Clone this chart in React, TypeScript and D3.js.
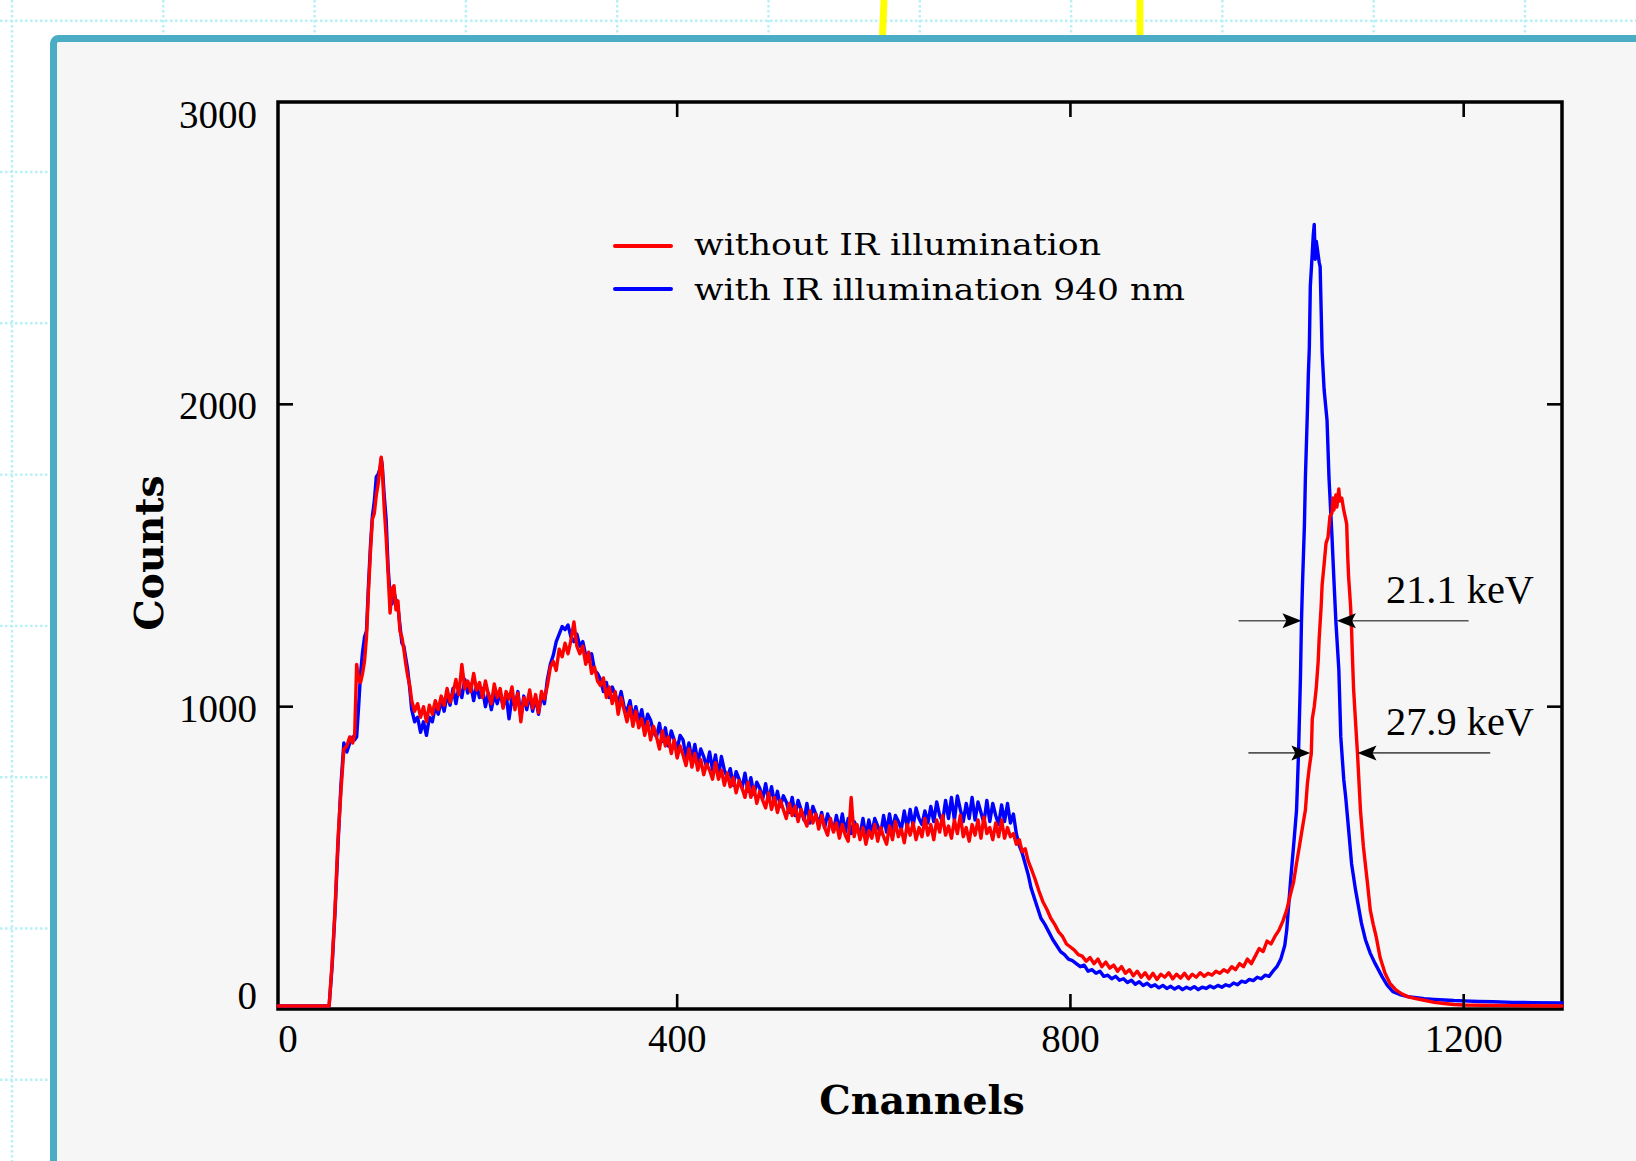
import React from "react";
import * as d3 from "d3";

const W = 1636;
const H = 1161;
const plot = { left: 278, right: 1562, top: 102, bottom: 1009 };

// axis setup
const xDomain = [-6, 1300];
const yDomain = [0, 3000];
const xTicks = [0, 400, 800, 1200];
const yTicks = [0, 1000, 2000, 3000];

const seriesNames = ["without IR illumination", "with IR illumination 940 nm"];
const seriesColors = ["#ff0000", "#0000ff"];

// [channel, counts]
const withoutIR: [number, number][] = [
  [-6, 10], [46, 10], [49, 150], [52, 330], [55, 560], [58, 720], [61, 860], [64, 870], [67, 900], [70, 880],
  [72, 910], [74, 1140], [76, 1090], [78, 1080], [80, 1110], [82, 1150], [84, 1230], [86, 1380], [88, 1510], [90, 1620],
  [92, 1640], [94, 1700], [96, 1740], [98, 1800], [99, 1825], [100, 1790], [102, 1660], [104, 1560], [106, 1440], [108, 1310],
  [110, 1390], [112, 1400], [114, 1320], [116, 1350], [118, 1250], [120, 1230], [122, 1190], [124, 1140], [126, 1100], [128, 1070],
  [130, 1020], [133, 985], [136, 1010], [139, 965], [142, 1000], [145, 950], [148, 1005], [151, 975], [154, 1020], [157, 990],
  [160, 1035], [163, 1005], [166, 1060], [169, 1015], [172, 1045], [175, 1090], [178, 1040], [181, 1140], [184, 1060], [187, 1085],
  [190, 1050], [193, 1110], [196, 1055], [199, 1080], [202, 1030], [205, 1085], [208, 1040], [211, 1010], [214, 1075], [217, 1030],
  [220, 1060], [223, 995], [226, 1050], [229, 1025], [232, 1065], [235, 990], [238, 1045], [241, 950], [244, 1030], [247, 1005],
  [250, 1055], [253, 995], [256, 1040], [259, 980], [262, 1050], [265, 1025], [268, 1070], [271, 1130], [274, 1150], [277, 1120],
  [280, 1190], [283, 1165], [286, 1210], [289, 1175], [292, 1220], [295, 1280], [298, 1200], [301, 1175], [304, 1200], [307, 1140],
  [310, 1180], [313, 1110], [316, 1130], [319, 1085], [322, 1070], [325, 1095], [328, 1030], [331, 1065], [334, 1010], [337, 1050],
  [340, 975], [343, 1030], [346, 990], [349, 950], [352, 1000], [355, 935], [358, 985], [361, 930], [364, 960], [367, 905],
  [370, 950], [373, 890], [376, 935], [379, 900], [382, 860], [385, 920], [388, 870], [391, 900], [394, 845], [397, 890],
  [400, 830], [403, 870], [406, 840], [409, 805], [412, 860], [415, 800], [418, 845], [421, 790], [424, 825], [427, 775],
  [430, 810], [433, 790], [436, 760], [439, 815], [442, 760], [445, 790], [448, 740], [451, 780], [454, 735], [457, 765],
  [460, 715], [463, 755], [466, 730], [469, 700], [472, 750], [475, 700], [478, 735], [481, 680], [484, 720], [487, 690],
  [490, 665], [493, 715], [496, 660], [499, 700], [502, 650], [505, 690], [508, 660], [511, 630], [514, 680], [517, 640],
  [520, 670], [523, 620], [526, 660], [529, 630], [532, 605], [535, 655], [538, 615], [541, 645], [544, 595], [547, 640],
  [550, 600], [553, 575], [556, 630], [559, 585], [562, 615], [565, 565], [568, 610], [571, 575], [574, 555], [577, 700],
  [580, 570], [583, 610], [586, 560], [589, 600], [592, 545], [595, 590], [598, 565], [601, 610], [604, 555], [607, 600],
  [610, 570], [613, 545], [616, 605], [619, 560], [622, 620], [625, 570], [628, 595], [631, 550], [634, 610], [637, 575],
  [640, 615], [643, 560], [646, 600], [649, 570], [652, 630], [655, 575], [658, 610], [661, 560], [664, 625], [667, 585],
  [670, 640], [673, 575], [676, 605], [679, 565], [682, 625], [685, 580], [688, 640], [691, 570], [694, 600], [697, 555],
  [700, 610], [703, 575], [706, 625], [709, 565], [712, 635], [715, 580], [718, 600], [721, 560], [724, 615], [727, 570],
  [730, 625], [733, 565], [736, 600], [739, 570], [742, 580], [745, 545], [748, 560], [751, 520], [754, 530], [757, 490],
  [760, 465], [764, 430], [768, 390], [772, 355], [776, 330], [780, 300], [784, 280], [788, 255], [792, 240], [796, 215],
  [800, 205], [804, 195], [808, 180], [812, 175], [816, 158], [820, 170], [824, 150], [828, 165], [832, 140], [836, 155],
  [840, 135], [844, 145], [848, 125], [852, 140], [856, 118], [860, 130], [864, 110], [868, 125], [872, 105], [876, 120],
  [880, 100], [884, 118], [888, 98], [892, 115], [896, 105], [900, 120], [904, 100], [908, 115], [912, 102], [916, 118],
  [920, 100], [924, 115], [928, 105], [932, 120], [936, 108], [940, 118], [944, 112], [948, 125], [952, 118], [956, 130],
  [960, 122], [964, 140], [968, 130], [972, 150], [976, 140], [980, 165], [984, 150], [988, 175], [992, 200], [996, 190],
  [1000, 225], [1004, 215], [1008, 240], [1012, 260], [1016, 290], [1020, 327], [1024, 382], [1027, 420], [1030, 482], [1033, 540],
  [1036, 600], [1039, 658], [1041, 744], [1043, 800], [1045, 845], [1046, 959], [1048, 1000], [1050, 1060], [1052, 1150], [1053, 1225],
  [1055, 1330], [1056, 1402], [1058, 1470], [1060, 1541], [1062, 1560], [1064, 1630], [1066, 1640], [1067, 1690], [1068, 1650], [1070, 1700],
  [1071, 1660], [1073, 1720], [1074, 1680], [1076, 1690], [1078, 1650], [1080, 1620], [1081, 1604], [1082, 1500], [1083, 1427], [1085, 1330],
  [1086, 1250], [1087, 1150], [1088, 1060], [1090, 950], [1092, 845], [1094, 720], [1095, 658], [1098, 537], [1102, 420], [1105, 327],
  [1108, 280], [1111, 239], [1115, 170], [1120, 118], [1125, 85], [1131, 63], [1137, 50], [1143, 41], [1150, 35], [1161, 28],
  [1170, 22], [1180, 18], [1190, 15], [1200, 13], [1220, 12], [1250, 11], [1300, 10],
];

const withIR: [number, number][] = [
  [-6, 10], [46, 10], [49, 140], [52, 320], [55, 540], [58, 740], [61, 880], [64, 850], [67, 880], [70, 900],
  [72, 890], [74, 900], [76, 1000], [78, 1110], [80, 1180], [82, 1230], [84, 1250], [86, 1400], [88, 1530], [90, 1630],
  [92, 1680], [94, 1760], [96, 1770], [98, 1790], [99, 1820], [100, 1800], [102, 1700], [104, 1620], [106, 1460], [108, 1370],
  [110, 1340], [112, 1380], [114, 1350], [116, 1330], [118, 1270], [120, 1210], [122, 1200], [124, 1160], [126, 1120], [128, 1060],
  [130, 990], [133, 950], [136, 965], [139, 915], [142, 950], [145, 905], [148, 965], [151, 950], [154, 1000], [157, 975],
  [160, 1020], [163, 985], [166, 1040], [169, 1005], [172, 1060], [175, 1010], [178, 1065], [181, 1030], [184, 1090], [187, 1045],
  [190, 1075], [193, 1020], [196, 1070], [199, 1030], [202, 1060], [205, 1000], [208, 1045], [211, 990], [214, 1040], [217, 1010],
  [220, 1050], [223, 1000], [226, 1040], [229, 960], [232, 1030], [235, 1000], [238, 1050], [241, 965], [244, 1035], [247, 990],
  [250, 1040], [253, 985], [256, 1030], [259, 975], [262, 1040], [265, 1010], [268, 1090], [271, 1140], [274, 1170], [277, 1215],
  [280, 1240], [283, 1265], [286, 1255], [289, 1270], [292, 1230], [295, 1215], [298, 1240], [301, 1200], [304, 1215], [307, 1170],
  [310, 1150], [313, 1175], [316, 1120], [319, 1110], [322, 1090], [325, 1050], [328, 1080], [331, 1030], [334, 1065], [337, 1040],
  [340, 1010], [343, 1050], [346, 1000], [349, 985], [352, 1020], [355, 960], [358, 1000], [361, 950], [364, 990], [367, 930],
  [370, 975], [373, 955], [376, 915], [379, 900], [382, 945], [385, 885], [388, 930], [391, 870], [394, 920], [397, 890],
  [400, 860], [403, 905], [406, 890], [409, 835], [412, 880], [415, 825], [418, 875], [421, 815], [424, 860], [427, 835],
  [430, 800], [433, 850], [436, 790], [439, 840], [442, 770], [445, 835], [448, 790], [451, 765], [454, 795], [457, 740],
  [460, 785], [463, 760], [466, 730], [469, 780], [472, 720], [475, 765], [478, 710], [481, 750], [484, 730], [487, 695],
  [490, 745], [493, 690], [496, 735], [499, 680], [502, 720], [505, 670], [508, 705], [511, 685], [514, 650], [517, 700],
  [520, 640], [523, 690], [526, 660], [529, 625], [532, 680], [535, 615], [538, 670], [541, 645], [544, 610], [547, 650],
  [550, 600], [553, 645], [556, 620], [559, 590], [562, 640], [565, 590], [568, 645], [571, 585], [574, 630], [577, 580],
  [580, 620], [583, 600], [586, 575], [589, 630], [592, 570], [595, 625], [598, 580], [601, 630], [604, 605], [607, 580],
  [610, 640], [613, 585], [616, 645], [619, 590], [622, 640], [625, 620], [628, 595], [631, 655], [634, 600], [637, 660],
  [640, 605], [643, 665], [646, 630], [649, 610], [652, 655], [655, 615], [658, 670], [661, 620], [664, 685], [667, 640],
  [670, 620], [673, 690], [676, 630], [679, 700], [682, 625], [685, 705], [688, 660], [691, 620], [694, 680], [697, 630],
  [700, 700], [703, 625], [706, 685], [709, 650], [712, 615], [715, 690], [718, 620], [721, 680], [724, 640], [727, 610],
  [730, 675], [733, 620], [736, 680], [739, 615], [742, 645], [745, 580], [748, 540], [751, 515], [754, 480], [757, 445],
  [760, 400], [763, 370], [766, 340], [770, 300], [774, 280], [778, 255], [782, 230], [786, 210], [790, 190], [794, 180],
  [798, 165], [802, 160], [806, 150], [810, 140], [814, 145], [818, 125], [822, 130], [826, 118], [830, 125], [834, 108],
  [838, 112], [842, 100], [846, 108], [850, 95], [854, 100], [858, 88], [862, 95], [866, 82], [870, 90], [874, 78],
  [878, 85], [882, 74], [886, 80], [890, 70], [894, 78], [898, 68], [902, 75], [906, 66], [910, 74], [914, 64],
  [918, 72], [922, 66], [926, 74], [930, 64], [934, 72], [938, 68], [942, 76], [946, 70], [950, 78], [954, 72],
  [958, 80], [962, 76], [966, 86], [970, 80], [974, 92], [978, 88], [982, 98], [986, 94], [990, 105], [994, 100],
  [998, 112], [1002, 108], [1006, 125], [1010, 140], [1014, 165], [1018, 210], [1020, 261], [1024, 427], [1027, 540], [1030, 658],
  [1032, 845], [1034, 1100], [1035, 1282], [1036, 1400], [1038, 1600], [1039, 1757], [1041, 1973], [1042, 2100], [1043, 2187], [1044, 2390],
  [1046, 2500], [1047, 2560], [1048, 2595], [1049, 2480], [1050, 2540], [1051, 2518], [1053, 2470], [1054, 2455], [1056, 2174], [1058, 2050],
  [1061, 1948], [1063, 1757], [1066, 1566], [1068, 1420], [1070, 1282], [1073, 1123], [1075, 900], [1078, 760], [1080, 700], [1083, 592],
  [1086, 480], [1090, 394], [1096, 284], [1100, 230], [1105, 184], [1110, 150], [1117, 107], [1122, 80], [1128, 57], [1135, 48],
  [1143, 41], [1150, 38], [1160, 34], [1170, 32], [1180, 30], [1190, 28], [1200, 27], [1215, 25], [1230, 24], [1250, 22],
  [1270, 21], [1300, 20],
];

// FWHM markers: horizontal level, arrow tails/tips and label anchor (data units)
const fwhmMarks = [
  { label: "21.1 keV", level: 1284, tailL: 971, tipL: 1035, tipR: 1071, tailR: 1205, textX: 1121, textY: 1343 },
  { label: "27.9 keV", level: 847, tailL: 981, tipL: 1044, tipR: 1092, tailR: 1227, textX: 1121, textY: 906 },
];

const serif = "'DejaVu Serif', serif";
const times = "'Liberation Serif', 'Times New Roman', serif";

function arrowHead(tx: number, ty: number, dir: number) {
  // dir = 1 points right, -1 points left
  const len = 19;
  const half = 7.5;
  const notch = 4;
  const pts = [
    [tx, ty],
    [tx - dir * len, ty - half],
    [tx - dir * (len - notch), ty],
    [tx - dir * len, ty + half],
  ];
  return pts.map((p) => p.join(",")).join(" ");
}

export default function App() {
  const x = d3.scaleLinear().domain(xDomain).range([plot.left, plot.right]);
  const y = d3.scaleLinear().domain(yDomain).range([plot.bottom, plot.top]);
  const line = d3
    .line<[number, number]>()
    .x((d) => x(d[0]))
    .y((d) => y(d[1]));

  const gridX = d3.range(12, W, 151.3);
  const gridY = d3.range(20.7, H, 151.3);
  const series = [withoutIR, withIR];

  const yLabelPos = (v: number) =>
    Math.min(Math.max(y(v) + 2, plot.top + 13), plot.bottom - 13);

  return (
    <svg
      width={W}
      height={H}
      style={{ position: "absolute", left: 0, top: 0, display: "block", background: "#ffffff" }}
    >
      {/* dotted page grid */}
      <g stroke="#b6f1f5" strokeWidth={2.4} strokeDasharray="2.5 2.5">
        {gridX.map((gx) => (
          <line key={"gx" + gx} x1={gx} x2={gx} y1={0} y2={H} />
        ))}
        {gridY.map((gy) => (
          <line key={"gy" + gy} x1={0} x2={W} y1={gy} y2={gy} />
        ))}
      </g>

      {/* yellow marks above the panel */}
      <line x1={884} y1={0} x2={882.5} y2={36} stroke="#ffff00" strokeWidth={7} />
      <line x1={1140} y1={0} x2={1140} y2={36} stroke="#ffff00" strokeWidth={7} />

      {/* panel */}
      <rect
        x={53.5}
        y={38.5}
        width={W}
        height={H}
        rx={5}
        fill="#f6f6f6"
        stroke="#4bacc6"
        strokeWidth={7}
      />

      {/* frame */}
      <rect
        x={plot.left}
        y={plot.top}
        width={plot.right - plot.left}
        height={plot.bottom - plot.top}
        fill="none"
        stroke="#000"
        strokeWidth={3.5}
      />

      {/* spectra: blue under red */}
      {[1, 0].map((i) => (
        <path
          key={seriesNames[i]}
          d={line(series[i]) || ""}
          fill="none"
          stroke={seriesColors[i]}
          strokeWidth={3.4}
          strokeLinejoin="round"
          strokeLinecap="round"
        />
      ))}

      {/* ticks (inward, all sides) */}
      <g stroke="#000" strokeWidth={2.6}>
        {xTicks
          .filter((t) => t > 0)
          .map((t) => (
            <g key={"xt" + t}>
              <line x1={x(t)} x2={x(t)} y1={plot.bottom} y2={plot.bottom - 15} />
              <line x1={x(t)} x2={x(t)} y1={plot.top} y2={plot.top + 15} />
            </g>
          ))}
        {yTicks
          .filter((t) => t > 0 && t < 3000)
          .map((t) => (
            <g key={"yt" + t}>
              <line x1={plot.left} x2={plot.left + 15} y1={y(t)} y2={y(t)} />
              <line x1={plot.right} x2={plot.right - 15} y1={y(t)} y2={y(t)} />
            </g>
          ))}
      </g>

      {/* tick labels */}
      <g fontFamily={times} fontSize={39} fill="#000">
        {xTicks.map((t) => (
          <text key={"xl" + t} x={x(t) + (t === 0 ? 4 : 0)} y={1052} textAnchor="middle">
            {t}
          </text>
        ))}
        {yTicks.map((t) => (
          <text key={"yl" + t} x={257} y={yLabelPos(t) + 13} textAnchor="end">
            {t}
          </text>
        ))}
      </g>

      {/* axis titles */}
      <text
        x={922}
        y={1114}
        textAnchor="middle"
        fontFamily={serif}
        fontWeight="bold"
        fontSize={39.5}
        fill="#000"
      >
        Cnannels
      </text>
      <text
        transform="translate(163,553) rotate(-90)"
        textAnchor="middle"
        fontFamily={serif}
        fontWeight="bold"
        fontSize={39.5}
        fill="#000"
      >
        Counts
      </text>

      {/* legend */}
      {seriesNames.map((name, i) => (
        <g key={"lg" + name}>
          <line
            x1={615}
            x2={671}
            y1={246 + i * 43}
            y2={246 + i * 43}
            stroke={seriesColors[i]}
            strokeWidth={4}
            strokeLinecap="round"
          />
          <text
            x={694}
            y={255 + i * 44.5}
            fontFamily={serif}
            fontSize={30}
            textLength={i === 0 ? 407 : 491}
            lengthAdjust="spacingAndGlyphs"
            fill="#000"
          >
            {name}
          </text>
        </g>
      ))}

      {/* FWHM annotations */}
      {fwhmMarks.map((m) => {
        const ly = y(m.level);
        return (
          <g key={m.label}>
            <line x1={x(m.tailL)} x2={x(m.tipL) - 12} y1={ly} y2={ly} stroke="#555" strokeWidth={1.6} />
            <line x1={x(m.tipR) + 12} x2={x(m.tailR)} y1={ly} y2={ly} stroke="#555" strokeWidth={1.6} />
            <polygon points={arrowHead(x(m.tipL), ly, 1)} fill="#000" />
            <polygon points={arrowHead(x(m.tipR), ly, -1)} fill="#000" />
            <text
              x={x(m.textX)}
              y={y(m.textY)}
              fontFamily={times}
              fontSize={40}
              textLength={148}
              lengthAdjust="spacingAndGlyphs"
              fill="#000"
            >
              {m.label}
            </text>
          </g>
        );
      })}
    </svg>
  );
}
